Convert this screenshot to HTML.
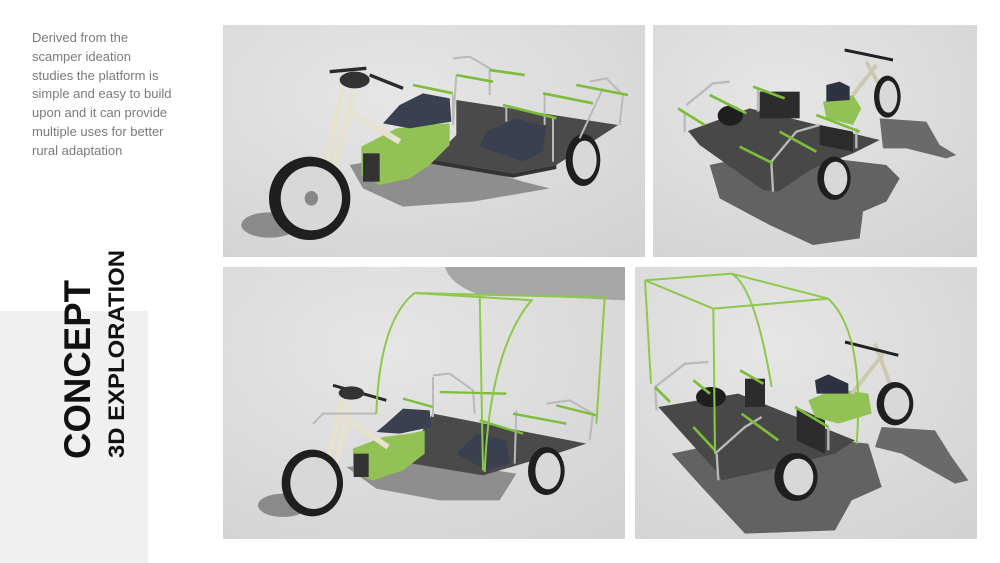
<!DOCTYPE html>
<html><head><meta charset="utf-8"><style>
html,body{margin:0;padding:0;background:#fff;width:1000px;height:563px;overflow:hidden;position:relative;font-family:"Liberation Sans",sans-serif}
.txt{position:absolute;left:32px;top:29px;width:190px;font-size:13px;line-height:18.8px;color:#7a7a7a;white-space:nowrap}
.grey{position:absolute;left:0;top:311px;width:148px;height:252px;background:#f0f0f0}
</style></head><body>
<div class="grey"></div>
<div class="txt">Derived from the<br>scamper ideation<br>studies the platform is<br>simple and easy to build<br>upon and it can provide<br>multiple uses for better<br>rural adaptation</div>
<svg style="position:absolute;left:0;top:0" width="200" height="563">
<text transform="translate(90,459) rotate(-90)" font-family="Liberation Sans" font-weight="bold" font-size="37" fill="#111" textLength="179" lengthAdjust="spacingAndGlyphs">CONCEPT</text>
<text transform="translate(124,458) rotate(-90)" font-family="Liberation Sans" font-weight="bold" font-size="22" fill="#111" textLength="208" lengthAdjust="spacingAndGlyphs">3D EXPLORATION</text>
</svg>
<svg width="1000" height="563" style="position:absolute;left:0;top:0">
<defs>
<radialGradient id="bg" cx="0.4" cy="0.3" r="0.9"><stop offset="0" stop-color="#e6e6e6"/><stop offset="1" stop-color="#d2d2d2"/></radialGradient>
</defs>
<svg x="223" y="25" width="422" height="232" viewBox="0 0 1266 696" preserveAspectRatio="none">
<rect width="1266" height="696" fill="url(#bg)"/>
<polygon points="380,420 600,380 900,470 980,490 750,530 540,545 420,490" fill="#8e8e8e"/>
<ellipse cx="140" cy="600" rx="85" ry="38" fill="#8a8a8a"/>
<polygon points="700,225 1185,300 1000,420 870,445 600,400 650,380 700,330" fill="#4a4a4a"/>
<polygon points="600,400 870,445 1000,420 1000,432 870,458 600,412" fill="#333"/>
<polygon points="415,365 520,310 600,300 680,295 680,360 620,420 560,460 470,480 415,450" fill="#92c256"/>
<rect x="420" y="385" width="50" height="85" fill="#333"/>
<polygon points="530,240 600,205 680,220 685,290 560,310 480,295" fill="#3b4050"/>
<polygon points="790,320 880,280 970,305 960,380 900,410 770,365" fill="#3b4050"/>
<g stroke="#e6e2cf" stroke-width="18" fill="none"><line x1="360" y1="190" x2="300" y2="450"/><line x1="392" y1="200" x2="328" y2="450"/><line x1="380" y1="260" x2="530" y2="350"/></g>
<g stroke="#2a2a2a" stroke-width="10"><line x1="320" y1="140" x2="430" y2="130"/><line x1="440" y1="150" x2="540" y2="190"/></g>
<ellipse cx="395" cy="165" rx="45" ry="25" fill="#333"/>
<ellipse cx="260" cy="520" rx="122" ry="125" fill="#1f1f1f"/><ellipse cx="265" cy="520" rx="92" ry="96" fill="#d8d8d8"/><ellipse cx="265" cy="520" rx="20" ry="22" fill="#888"/>
<ellipse cx="1080" cy="405" rx="52" ry="78" fill="#1f1f1f"/><ellipse cx="1085" cy="405" rx="36" ry="58" fill="#d8d8d8"/>
<g stroke="#b9b9b9" stroke-width="6" fill="none"><polyline points="690,100 740,95 800,130 800,210"/><polyline points="690,210 690,300 700,150"/><polyline points="1100,170 1150,160 1200,210 1190,300"/><polyline points="1140,190 1070,340"/><line x1="965" y1="205" x2="965" y2="300"/><line x1="990" y1="280" x2="990" y2="410"/><line x1="850" y1="240" x2="850" y2="290"/></g>
<g stroke="#7cbd3a" stroke-width="8"><line x1="570" y1="180" x2="690" y2="205"/><line x1="800" y1="135" x2="905" y2="150"/><line x1="700" y1="150" x2="810" y2="170"/><line x1="960" y1="205" x2="1110" y2="235"/><line x1="1060" y1="180" x2="1215" y2="210"/><line x1="840" y1="240" x2="1000" y2="280"/></g>
</svg>
<svg x="653" y="25" width="324" height="232" viewBox="0 0 972 696" preserveAspectRatio="none">
<rect width="972" height="696" fill="url(#bg)"/>
<polygon points="170,420 360,380 700,420 740,460 700,530 630,560 620,640 480,660 350,600 200,520" fill="#626262"/>
<polygon points="680,280 820,290 860,360 910,390 880,400 760,370 690,370" fill="#6a6a6a"/>
<polygon points="105,318 290,250 680,345 600,385 480,430 375,500 330,495 140,360" fill="#484848"/>
<ellipse cx="232" cy="272" rx="38" ry="30" fill="#1f1f1f"/>
<rect x="320" y="200" width="120" height="80" fill="#2c2c2c"/>
<polygon points="500,300 600,320 600,380 500,360" fill="#2c2c2c"/>
<polygon points="510,230 600,210 625,250 600,300 520,280" fill="#92c256"/>
<polygon points="520,180 560,170 590,185 590,225 520,230" fill="#2e3240"/>
<g stroke="#ccc8b2" stroke-width="12" fill="none"><line x1="640" y1="110" x2="690" y2="200"/><line x1="670" y1="120" x2="600" y2="210"/></g>
<line x1="575" y1="75" x2="720" y2="105" stroke="#222" stroke-width="9"/>
<ellipse cx="703" cy="215" rx="40" ry="63" fill="#1f1f1f"/><ellipse cx="706" cy="215" rx="27" ry="48" fill="#d8d8d8"/>
<ellipse cx="543" cy="460" rx="50" ry="65" fill="#1f1f1f"/><ellipse cx="548" cy="460" rx="35" ry="50" fill="#d8d8d8"/>
<g stroke="#b9b9b9" stroke-width="7" fill="none"><polyline points="100,240 180,175 230,170"/><line x1="95" y1="260" x2="95" y2="320"/><polyline points="355,410 430,320 500,300"/><line x1="355" y1="410" x2="360" y2="500"/><line x1="610" y1="310" x2="610" y2="370"/><line x1="315" y1="190" x2="315" y2="260"/></g>
<g stroke="#7cbd3a" stroke-width="8"><line x1="75" y1="250" x2="155" y2="300"/><line x1="170" y1="210" x2="280" y2="265"/><line x1="260" y1="365" x2="360" y2="415"/><line x1="380" y1="320" x2="490" y2="380"/><line x1="300" y1="185" x2="395" y2="220"/><line x1="490" y1="270" x2="620" y2="320"/></g>
</svg>
<svg x="223" y="267" width="402" height="272" viewBox="0 0 1206 816" preserveAspectRatio="none">
<rect width="1206" height="816" fill="url(#bg)"/>
<path d="M666,0 L1206,0 L1206,100 L760,80 Q680,50 666,0Z" fill="#a6a6a6"/>
<polygon points="370,600 620,580 880,620 830,700 650,700 460,665" fill="#8e8e8e"/>
<ellipse cx="180" cy="715" rx="75" ry="35" fill="#8a8a8a"/>
<polygon points="630,440 1090,530 1000,560 780,625 540,585 580,520" fill="#4a4a4a"/>
<polygon points="390,545 480,510 560,500 605,490 605,560 540,610 450,640 390,620" fill="#92c256"/>
<rect x="392" y="560" width="45" height="70" fill="#333"/>
<polygon points="490,470 540,425 620,430 625,480 530,500 460,495" fill="#3b4050"/>
<polygon points="700,560 760,500 850,520 860,590 790,610" fill="#3b4050"/>
<g stroke="#e6e2cf" stroke-width="16" fill="none"><line x1="360" y1="400" x2="310" y2="600"/><line x1="385" y1="410" x2="335" y2="600"/><line x1="380" y1="460" x2="495" y2="540"/></g>
<line x1="330" y1="355" x2="490" y2="400" stroke="#2a2a2a" stroke-width="9"/>
<ellipse cx="385" cy="378" rx="38" ry="20" fill="#333"/>
<ellipse cx="268" cy="648" rx="92" ry="100" fill="#1f1f1f"/><ellipse cx="272" cy="648" rx="70" ry="78" fill="#d8d8d8"/>
<ellipse cx="970" cy="612" rx="55" ry="72" fill="#1f1f1f"/><ellipse cx="975" cy="612" rx="38" ry="55" fill="#d8d8d8"/>
<g stroke="#b9b9b9" stroke-width="6" fill="none"><polyline points="630,325 680,320 750,370 755,440"/><line x1="630" y1="330" x2="630" y2="450"/><polyline points="970,410 1040,400 1110,440 1100,520"/><line x1="880" y1="430" x2="875" y2="590"/><polyline points="270,470 300,440 460,440"/></g>
<g stroke="#7cbd3a" stroke-width="7"><line x1="540" y1="395" x2="630" y2="420"/><line x1="650" y1="375" x2="850" y2="380"/><line x1="870" y1="440" x2="1030" y2="470"/><line x1="770" y1="460" x2="900" y2="500"/><line x1="1000" y1="415" x2="1120" y2="445"/></g>
<g stroke="#8cc84a" stroke-width="6" fill="none"><path d="M460,440 Q470,160 575,78"/><line x1="575" y1="78" x2="1145" y2="92"/><line x1="575" y1="78" x2="930" y2="100"/><line x1="770" y1="80" x2="780" y2="610"/><path d="M925,100 Q800,250 785,615"/><line x1="1145" y1="92" x2="1120" y2="470"/></g>
</svg>
<svg x="635" y="267" width="342" height="272" viewBox="0 0 1026 816" preserveAspectRatio="none">
<rect width="1026" height="816" fill="url(#bg)"/>
<polygon points="110,560 400,500 700,530 740,660 650,700 600,790 330,800 200,660" fill="#626262"/>
<polygon points="740,480 900,490 950,570 1000,640 960,650 800,560 720,540" fill="#6a6a6a"/>
<polygon points="70,420 310,380 660,520 600,560 440,600 260,640 250,620" fill="#484848"/>
<ellipse cx="228" cy="390" rx="45" ry="30" fill="#1f1f1f"/>
<rect x="330" y="335" width="60" height="85" fill="#2c2c2c"/>
<polygon points="485,420 570,460 570,560 485,520" fill="#2c2c2c"/>
<polygon points="520,400 600,365 700,380 710,440 610,470 540,450" fill="#92c256"/>
<polygon points="540,340 580,322 640,350 640,380 545,380" fill="#2e3240"/>
<g stroke="#ccc8b2" stroke-width="12" fill="none"><line x1="720" y1="230" x2="780" y2="390"/><line x1="745" y1="260" x2="650" y2="380"/></g>
<line x1="630" y1="225" x2="790" y2="265" stroke="#222" stroke-width="9"/>
<ellipse cx="780" cy="410" rx="55" ry="65" fill="#1f1f1f"/><ellipse cx="785" cy="410" rx="38" ry="48" fill="#d8d8d8"/>
<ellipse cx="483" cy="630" rx="65" ry="72" fill="#1f1f1f"/><ellipse cx="490" cy="630" rx="45" ry="55" fill="#d8d8d8"/>
<g stroke="#b9b9b9" stroke-width="7" fill="none"><polyline points="60,360 150,290 220,285"/><line x1="60" y1="360" x2="65" y2="430"/><polyline points="240,560 330,480 380,450"/><line x1="245" y1="560" x2="250" y2="640"/><line x1="580" y1="480" x2="580" y2="550"/></g>
<g stroke="#7cbd3a" stroke-width="8"><line x1="60" y1="360" x2="105" y2="405"/><line x1="175" y1="340" x2="225" y2="380"/><line x1="175" y1="480" x2="240" y2="550"/><line x1="320" y1="440" x2="430" y2="520"/><line x1="315" y1="310" x2="385" y2="350"/><line x1="480" y1="420" x2="580" y2="480"/></g>
<g stroke="#8cc84a" stroke-width="6" fill="none"><line x1="30" y1="40" x2="48" y2="350"/><line x1="30" y1="40" x2="290" y2="20"/><line x1="30" y1="40" x2="235" y2="125"/><path d="M290,20 Q360,60 410,360"/><line x1="290" y1="20" x2="580" y2="95"/><line x1="235" y1="125" x2="580" y2="95"/><line x1="235" y1="125" x2="240" y2="560"/><path d="M580,95 Q690,200 665,530"/></g>
</svg>
</svg>
</body></html>
